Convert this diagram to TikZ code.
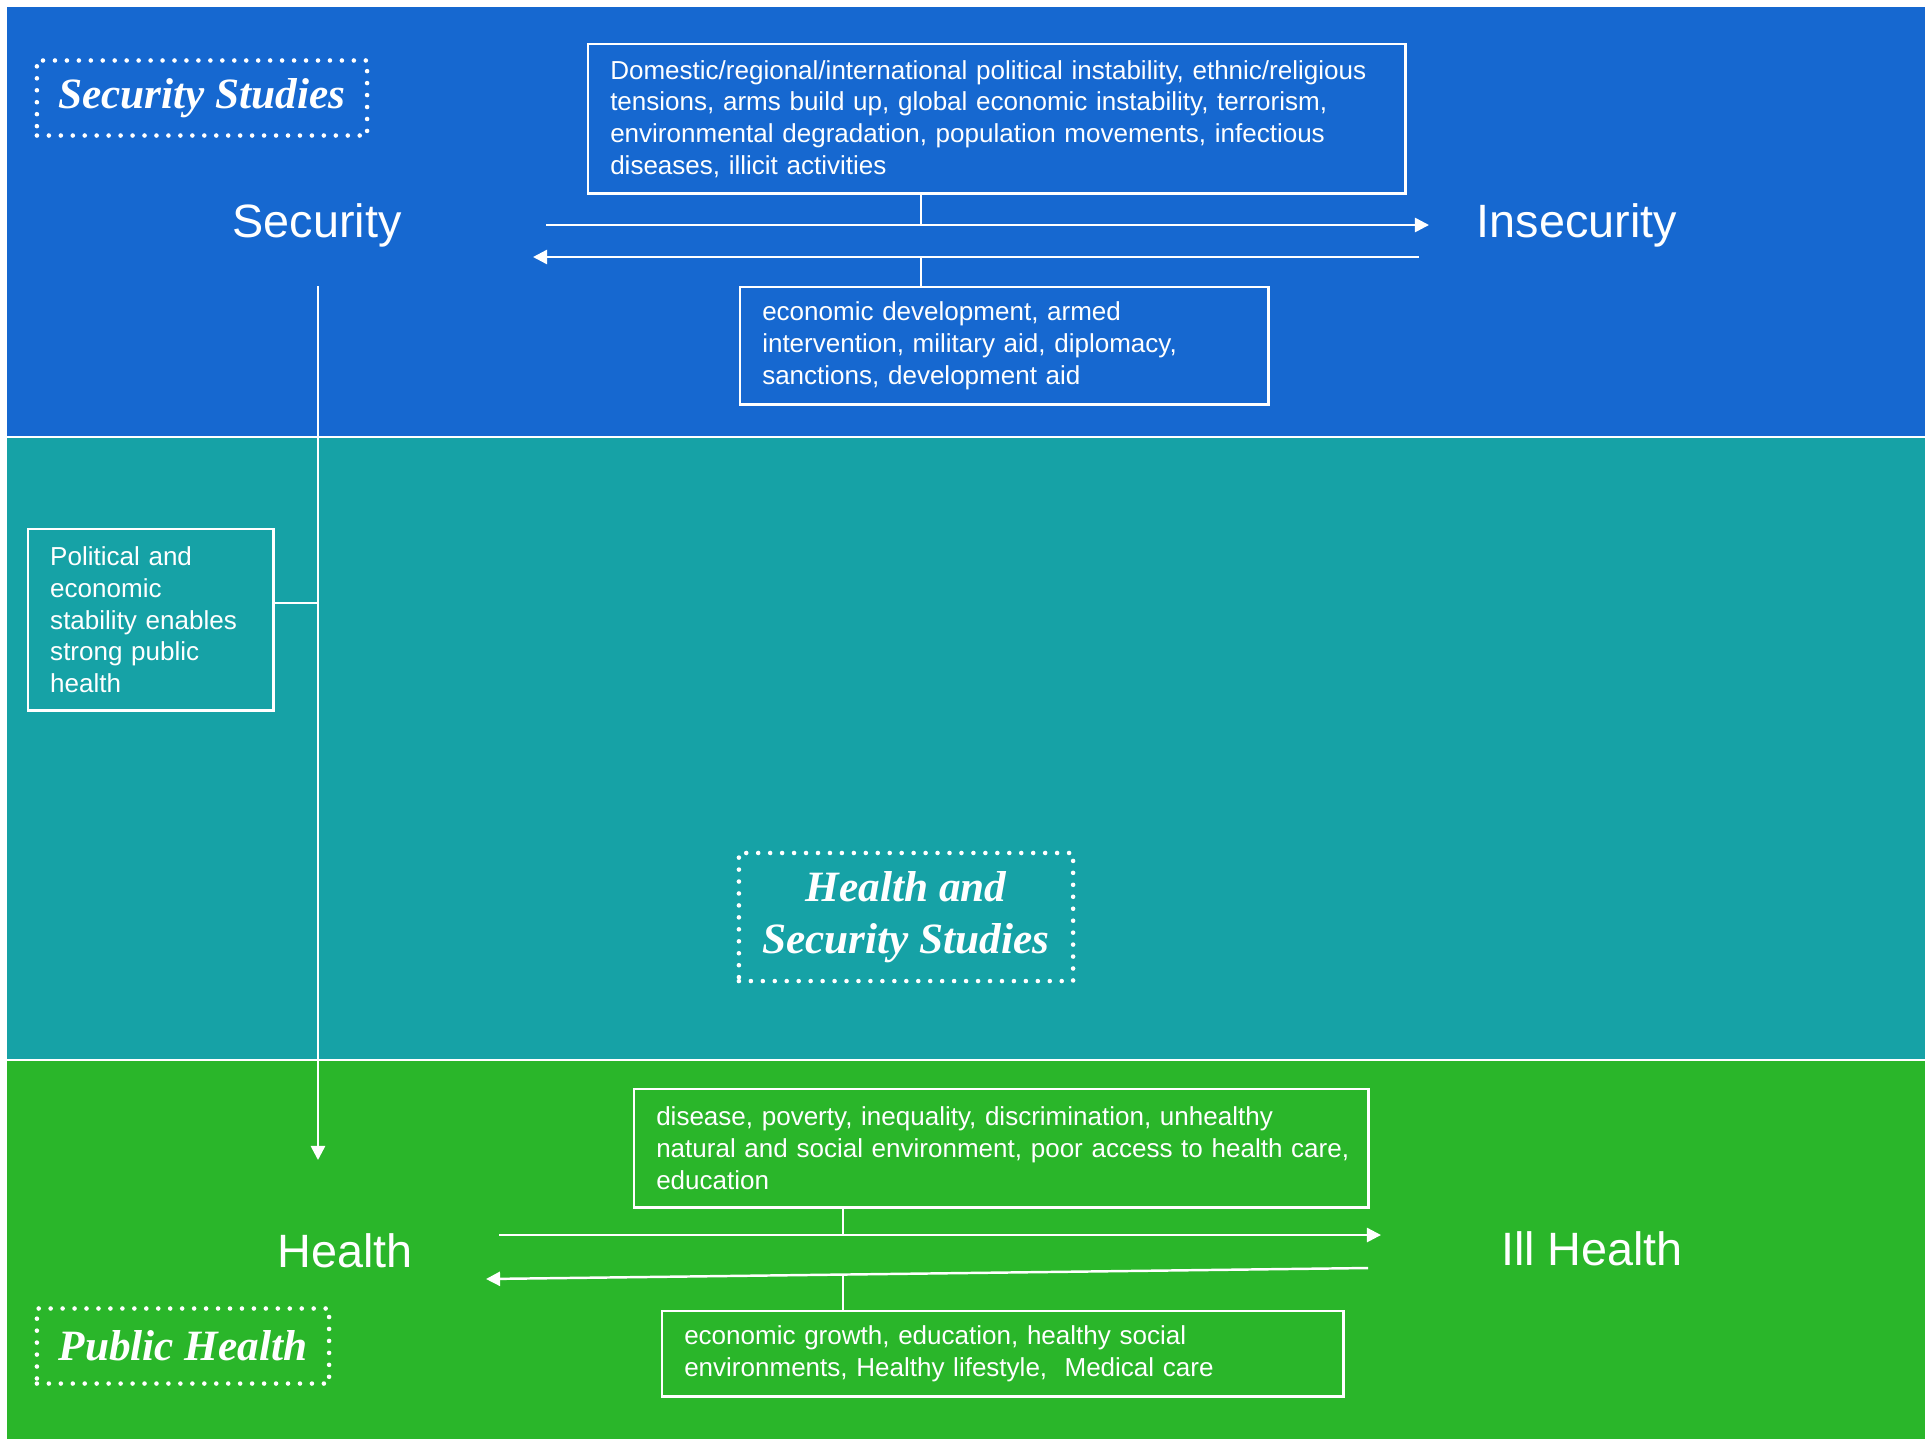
\documentclass[tikz,border=0pt]{standalone}
\usepackage{fontspec}
\setmainfont{Liberation Sans}
\newfontfamily\fieldfont{Liberation Serif}
\usetikzlibrary{arrows.meta,positioning}

\definecolor{secblue}{RGB}{22,104,208}
\definecolor{midteal}{RGB}{22,162,166}
\definecolor{phgreen}{RGB}{42,182,42}

\tikzset{bigword/.style={
			  text            = white,
			  anchor          = base,
			  font            = \fontsize{13.3}{16}\selectfont
			}}
\tikzset{factbox/.style={
			  rectangle,
			  draw            = white,
			  line width      = 0.7pt,
			  text            = white,
			  align           = left,
			  inner xsep      = 0.22cm,
			  inner ysep      = 0pt,
			  anchor          = north west,
			  font            = \fontsize{7.4}{9}\selectfont
			}}
\tikzset{fieldbox/.style={
			  rectangle,
			  draw            = white,
			  line width      = 1.3pt,
			  dash pattern    = on 0pt off 3.4pt,
			  line cap        = round,
			  inner sep       = 0pt,
			  text            = white,
			  align           = center,
			  font            = \fieldfont\bfseries\itshape\fontsize{12.3}{14.8}\selectfont
			}}
\tikzset{link/.style={draw=white, line width=0.7pt}}
\tikzset{flow/.style={link, -{Triangle[length=4pt,width=4pt]}}}

\begin{document}
\begin{tikzpicture}[x=0.01cm, y=-0.01cm]
    \useasboundingbox (0,0) rectangle (1931,1439);

    % three bands
    \fill [secblue] (7,7)    rectangle (1925,437);
    \fill [midteal] (7,437)  rectangle (1925,1060);
    \fill [phgreen] (7,1060) rectangle (1925,1439);
    \draw [white, line width=0.8pt] (7,437)  -- (1925,437);
    \draw [white, line width=0.8pt] (7,1060) -- (1925,1060);

    \node (secstud)   [fieldbox, minimum width=3.3cm, minimum height=0.75cm]  at (202,98)   {Security Studies};
    \node (hsstud)    [fieldbox, minimum width=3.34cm, minimum height=1.28cm] at (906,917)  {Health and\\Security Studies};
    \node (phstud)    [fieldbox, minimum width=2.92cm, minimum height=0.75cm] at (183,1346) {Public Health};

    \node (secword)   [bigword] at (317,237)  {Security};
    \node (insecword) [bigword] at (1577,237) {Insecurity};
    \node (hlthword)  [bigword] at (345,1267) {Health};
    \node (illword)   [bigword] at (1592,1265) {Ill Health};

    \node (threats)   [factbox, minimum width=8.17cm, minimum height=1.49cm, text width=7.73cm] at (587,43)
        {Domestic/regional/international political instability, ethnic/religious\\
         tensions, arms build up, global economic instability, terrorism,\\
         environmental degradation, population movements, infectious\\
         diseases, illicit activities};
    \node (remedies)  [factbox, minimum width=5.28cm, minimum height=1.17cm, text width=4.84cm] at (739,286)
        {economic development, armed\\
         intervention, military aid, diplomacy,\\
         sanctions, development aid};
    \node (stable)    [factbox, minimum width=2.45cm, minimum height=1.81cm, text width=2.01cm] at (27,528)
        {Political and\\ economic\\ stability enables\\ strong public\\ health};
    \node (illcause)  [factbox, minimum width=7.34cm, minimum height=1.18cm, text width=6.90cm] at (633,1088)
        {disease, poverty, inequality, discrimination, unhealthy\\
         \mbox{natural and social environment, poor access to health care,}\\
         education};
    \node (cure)      [factbox, minimum width=6.81cm, minimum height=0.85cm, text width=6.37cm] at (661,1310)
        {economic growth, education, healthy social\\
         environments, Healthy lifestyle,\ \ Medical care};

    \coordinate (a1s)  at (546,225);
    \coordinate (a1e)  at (1429,225);
    \coordinate (a2s)  at (1419,257);
    \coordinate (a2e)  at (533,257);
    \coordinate (t1)   at (921,225);
    \coordinate (t2)   at (921,257);
    \coordinate (drop) at (318,286);
    \coordinate (land) at (318,1160);
    \coordinate (jn)   at (318,603);
    \coordinate (b1s)  at (499,1235);
    \coordinate (b1e)  at (1381,1235);
    \coordinate (b2s)  at (1368,1268);
    \coordinate (b2e)  at (486,1279);
    \coordinate (u1)   at (843,1235);
    \coordinate (u2)   at (843,1275);

    \draw [flow] (a1s)  to (a1e);
    \draw [flow] (a2s)  to (a2e);
    \draw [link] (threats.south -| t1) to (t1);
    \draw [link] (t2)   to (t2 |- remedies.north);
    \draw [flow] (drop) to (land);
    \draw [link] (stable.east |- jn) to (jn);
    \draw [flow] (b1s)  to (b1e);
    \draw [flow] (b2s)  to (b2e);
    \draw [link] (illcause.south -| u1) to (u1);
    \draw [link] (u2)   to (u2 |- cure.north);

\end{tikzpicture}
\end{document}
